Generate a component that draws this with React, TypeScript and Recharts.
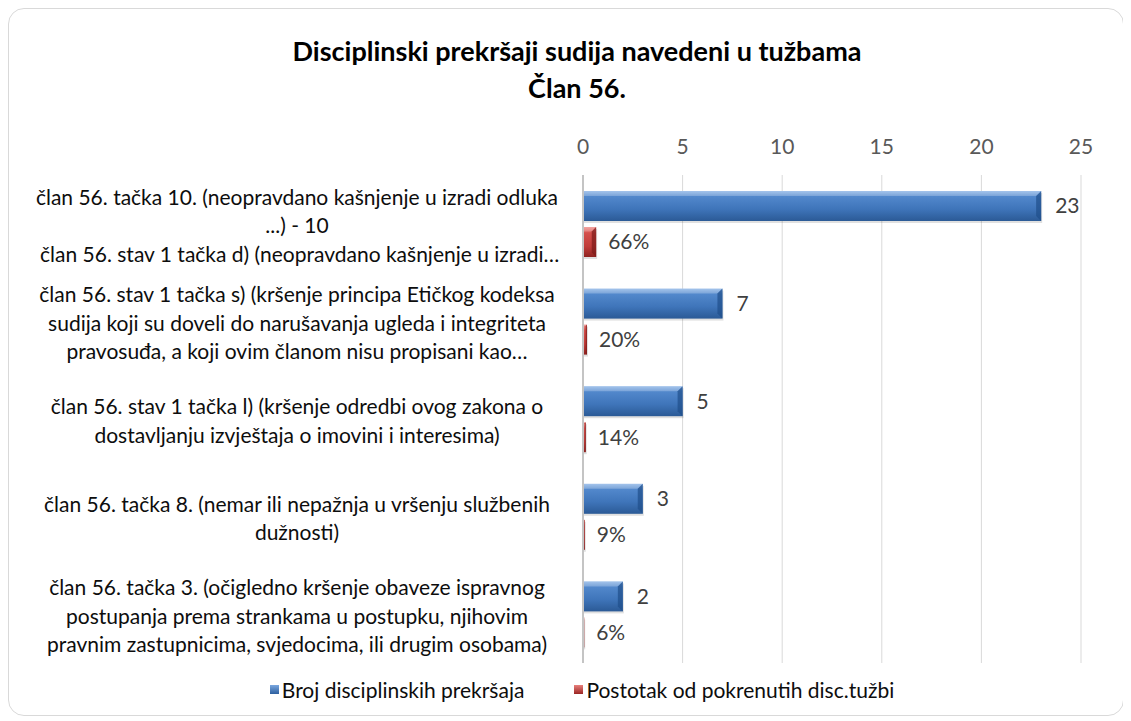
import React from 'react';
import { BarChart, Bar, XAxis, YAxis, CartesianGrid, LabelList, Legend } from 'recharts';

const categories = [
  'član 56. tačka 10. (neopravdano kašnjenje u izradi odluka\n...) - 10\n član 56. stav 1 tačka d) (neopravdano kašnjenje u izradi…',
  'član 56. stav 1 tačka s) (kršenje principa Etičkog kodeksa\nsudija koji su doveli do narušavanja ugleda i integriteta\npravosuđa, a koji ovim članom nisu propisani kao…',
  'član 56. stav 1 tačka l) (kršenje odredbi ovog zakona o\ndostavljanju izvještaja o imovini i interesima)',
  'član 56. tačka 8. (nemar ili nepažnja u vršenju službenih\ndužnosti)',
  'član 56. tačka 3. (očigledno kršenje obaveze ispravnog\npostupanja prema strankama u postupku, njihovim\npravnim zastupnicima, svjedocima, ili drugim osobama)',
];
const brojPrekrsaja = [23, 7, 5, 3, 2];
const postotak = [0.66, 0.2, 0.14, 0.09, 0.06];
const xTicks = [0, 5, 10, 15, 20, 25];
const seriesNames = ['Broj disciplinskih prekršaja', 'Postotak od pokrenutih disc.tužbi'];
const titleLines = ['Disciplinski prekršaji sudija navedeni u tužbama', 'Član 56.'];

const data = categories.map((name, i) => ({ name, broj: brojPrekrsaja[i], postotak: postotak[i] }));

const FONT = 'Lato, "Open Sans", sans-serif';
const FS = 21;

const CatTick = (props: any) => {
  const { x, y, payload } = props;
  const lines: string[] = String(payload.value).split('\n');
  const lh = 28.5;
  const cx = x - 278;
  const y0 = y - ((lines.length - 1) * lh) / 2 + 2;
  return (
    <text x={cx} y={y0} textAnchor="middle" fontSize={FS} fill="#0d0d0d" fontFamily={FONT}>
      {lines.map((l, i) => (
        <tspan key={i} x={cx} dy={i === 0 ? '0.35em' : lh}>
          {l}
        </tspan>
      ))}
    </text>
  );
};

const makeShape = (gradId: string, edge: string) => (props: any) => {
  const { x, y, width, height } = props;
  if (!width || width <= 0) return <g />;
  const b = Math.min(5, width / 3);
  return (
    <g>
      <rect x={x + 1} y={y + 2} width={width} height={height} fill="#000" opacity={0.12} />
      <rect x={x} y={y} width={width} height={height} fill={`url(#${gradId})`} />
      <polygon
        points={`${x},${y} ${x + width},${y} ${x + width - b},${y + b} ${x},${y + b}`}
        fill="#fff"
        opacity={0.22}
      />
      <polygon
        points={`${x + width - b},${y + b} ${x + width},${y} ${x + width},${y + height} ${x + width - b},${y + height - b}`}
        fill={edge}
        opacity={0.7}
      />
    </g>
  );
};

const BlueShape = makeShape('gBlue', '#1f4f8a');
const RedShape = makeShape('gRed', '#7a1a18');

const renderLegend = () => (
  <div
    style={{
      display: 'flex',
      justifyContent: 'center',
      alignItems: 'center',
      fontFamily: FONT,
      fontSize: FS,
      color: '#0d0d0d',
      transform: 'translate(30px, 13px)',
      height: 26,
    }}
  >
    {seriesNames.map((n, i) => (
      <div key={n} style={{ display: 'flex', alignItems: 'center', marginRight: i === 0 ? 50 : 0 }}>
        <svg width={9} height={9} style={{ marginRight: 3 }}>
          <defs>
            <linearGradient id={`lg${i}`} x1="0" y1="0" x2="0" y2="1">
              <stop offset="0%" stopColor={i === 0 ? '#7aa7df' : '#e8807c'} />
              <stop offset="100%" stopColor={i === 0 ? '#2d5f9f' : '#9a2523'} />
            </linearGradient>
          </defs>
          <rect x={0} y={0} width={9} height={9} fill={`url(#lg${i})`} />
        </svg>
        <span>{n}</span>
      </div>
    ))}
  </div>
);

export default function App() {
  return (
    <div
      style={{
        position: 'relative',
        width: 1116,
        height: 708,
        border: '1px solid #d9d9d9',
        borderRadius: 16,
        boxSizing: 'border-box',
        background: '#fff',
      }}
    >
      <div
        style={{
          position: 'absolute',
          left: 20,
          top: 23,
          width: 1096,
          textAlign: 'center',
          fontFamily: FONT,
          fontWeight: 700,
          fontSize: 27,
          lineHeight: '37px',
          color: '#000',
        }}
      >
        {titleLines.map((t) => (
          <div key={t}>{t}</div>
        ))}
      </div>
      <div style={{ position: 'absolute', left: -1, top: -1 }}>
        <BarChart
          width={1116}
          height={708}
          data={data}
          layout="vertical"
          margin={{ top: 137, right: 43, bottom: 27, left: 15 }}
          barSize={30}
          barGap={6}
        >
          <defs>
            <linearGradient id="gBlue" x1="0" y1="0" x2="0" y2="1">
              <stop offset="0%" stopColor="#8ab3e6" />
              <stop offset="18%" stopColor="#5288cc" />
              <stop offset="60%" stopColor="#3f75ba" />
              <stop offset="100%" stopColor="#2b5a96" />
            </linearGradient>
            <linearGradient id="gRed" x1="0" y1="0" x2="0" y2="1">
              <stop offset="0%" stopColor="#f08a86" />
              <stop offset="20%" stopColor="#d4504c" />
              <stop offset="65%" stopColor="#c03c39" />
              <stop offset="100%" stopColor="#8f2220" />
            </linearGradient>
          </defs>
          <CartesianGrid horizontal={false} stroke="#d9d9d9" />
          <XAxis
            type="number"
            orientation="top"
            domain={[0, 25]}
            ticks={xTicks}
            axisLine={false}
            tickLine={false}
            tickSize={0}
            tickMargin={21}
            height={30}
            tick={{ fill: '#595959', fontSize: FS, fontFamily: FONT }}
          />
          <YAxis
            type="category"
            dataKey="name"
            width={560}
            axisLine={{ stroke: '#c4c4c4', strokeWidth: 2 }}
            tickLine={false}
            interval={0}
            tick={<CatTick />}
          />
          <Legend verticalAlign="bottom" content={renderLegend} />
          <Bar dataKey="broj" name={seriesNames[0]} shape={BlueShape} isAnimationActive={false}>
            <LabelList
              dataKey="broj"
              position="right"
              offset={14}
              fill="#404040"
              fontSize={FS}
              fontFamily={FONT}
            />
          </Bar>
          <Bar dataKey="postotak" name={seriesNames[1]} shape={RedShape} isAnimationActive={false}>
            <LabelList
              dataKey="postotak"
              position="right"
              offset={12}
              fill="#404040"
              fontSize={FS}
              fontFamily={FONT}
              formatter={(v: any) => `${Math.round(Number(v) * 100)}%`}
            />
          </Bar>
        </BarChart>
      </div>
    </div>
  );
}
